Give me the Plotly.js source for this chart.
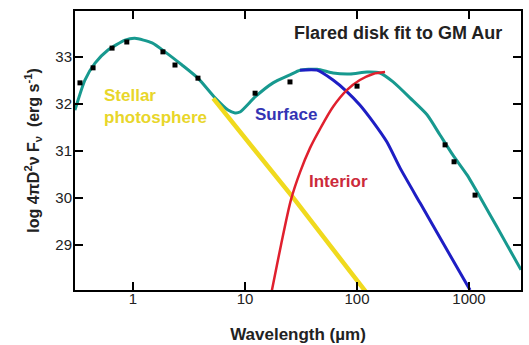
<!DOCTYPE html>
<html><head><meta charset="utf-8">
<script src="https://cdn.plot.ly/plotly-3.0.1.min.js"></script>
<style>html,body{margin:0;padding:0;background:#fff}#chart{width:529px;height:345px}</style>
</head><body><div id="chart"></div>
<script>
// Total model (flared disk fit)
const totalWavelength = [0.303,0.372,0.458,0.598,0.849,1.04,1.48,1.93,2.74,3.80,5.40,7.05,8.13,9.02,12.3,17.8,25.2,31.0,44.0,61.1,86.6,123,160,210,297,422,551,719,960,1253,1778,2911];
const totalFlux = [31.87,32.51,32.87,33.15,33.36,33.40,33.30,33.11,32.83,32.55,32.13,31.87,31.81,31.83,32.15,32.45,32.62,32.72,32.74,32.66,32.64,32.68,32.66,32.47,32.13,31.77,31.34,30.91,30.49,30.02,29.38,28.47];
// Stellar photosphere
const starWavelength = [5.2,10,27,120];
const starFlux = [32.12,31.29,30.0,28.0];
// Disk surface
const surfaceWavelength = [31.0,44.0,61.1,81.5,106,139,185,242,366,586,1021];
const surfaceFlux = [32.72,32.72,32.51,32.26,31.98,31.62,31.19,30.64,29.89,29.04,28.04];
// Disk interior
const interiorWavelength = [16.6,17.4,20.96,25.7,31.0,38.0,46.8,61.1,81.5,106,139,178];
const interiorFlux = [27.8,28.04,29.0,29.96,30.55,31.06,31.47,31.94,32.30,32.51,32.64,32.68];
// Observed photometry of GM Aur
const obsWavelength = [0.336,0.44,0.65,0.88,1.85,2.37,3.8,12.3,25.2,100,611,735,1132];
const obsFlux = [32.45,32.77,33.19,33.32,33.11,32.83,32.55,32.23,32.47,32.38,31.13,30.77,30.06];
// Axis ticks
const xTickVals = [1,10,100,1000];
const xTickText = ['1','10','100','1000'];
const yTickVals = [29,30,31,32,33];

const FONT = '"Liberation Sans", Arial, Helvetica, sans-serif';

const traces = [
  {x: totalWavelength, y: totalFlux, mode:'lines', line:{color:'#17998f', width:3, shape:'spline', smoothing:0.6}},
  {x: starWavelength, y: starFlux, mode:'lines', line:{color:'#f0da1e', width:4.5}},
  {x: surfaceWavelength, y: surfaceFlux, mode:'lines', line:{color:'#1e1ec4', width:3, shape:'spline', smoothing:0.6}},
  {x: interiorWavelength, y: interiorFlux, mode:'lines', line:{color:'#e0202e', width:2.5, shape:'spline', smoothing:0.8}},
  {x: obsWavelength, y: obsFlux, mode:'markers', marker:{color:'#000', size:5, symbol:'square'}}
];

const layout = {
  width:529, height:345,
  margin:{l:75, r:8, t:11, b:55},
  paper_bgcolor:'#fff', plot_bgcolor:'#fff',
  showlegend:false,
  font:{family:FONT, color:'#222'},
  xaxis:{
    type:'log', range:[-0.518,3.464],
    tickvals:xTickVals, ticktext:xTickText,
    ticks:'inside', ticklen:8, tickwidth:2, tickcolor:'#000',
    showline:true, linewidth:2, linecolor:'#000', mirror:'ticks',
    showgrid:false, zeroline:false,
    ticklabelstandoff:-6,
    tickfont:{size:15, family:FONT, color:'#222'},
    title:{text:'<b>Wavelength (µm)</b>', font:{size:17, family:FONT, color:'#222'}, standoff:22}
  },
  yaxis:{
    range:[28.04,33.98],
    tickvals:yTickVals,
    ticks:'inside', ticklen:8, tickwidth:2, tickcolor:'#000',
    showline:true, linewidth:2, linecolor:'#000', mirror:'ticks',
    showgrid:false, zeroline:false,
    ticklabelstandoff:-2,
    tickfont:{size:15, family:FONT, color:'#222'},
    title:{text:'<b>log 4πD<sup>2</sup>ν F<sub>ν</sub>  (erg s<sup>-1</sup>)</b>', font:{size:16, family:FONT, color:'#222'}, standoff:12}
  },
  annotations:[
    {xref:'paper', yref:'paper', x:0.962, y:0.921, xanchor:'right', yanchor:'middle', showarrow:false,
     text:'<b>Flared disk fit to GM Aur</b>', font:{size:18, family:FONT, color:'#222'}},
    {xref:'x', yref:'y', x:-0.277, y:31.94, xanchor:'left', yanchor:'middle', align:'left', showarrow:false,
     text:'<b>Stellar<br>photosphere</b>', font:{size:17, family:FONT, color:'#e8d62a'}},
    {xref:'x', yref:'y', x:1.07, y:31.77, xanchor:'left', yanchor:'middle', showarrow:false,
     text:'<b>Surface</b>', font:{size:17, family:FONT, color:'#3434b4'}},
    {xref:'x', yref:'y', x:1.55, y:30.36, xanchor:'left', yanchor:'middle', showarrow:false,
     text:'<b>Interior</b>', font:{size:17, family:FONT, color:'#cc2a3a'}}
  ]
};

Plotly.newPlot('chart', traces, layout, {staticPlot:true, displayModeBar:false});
</script>
</body></html>
